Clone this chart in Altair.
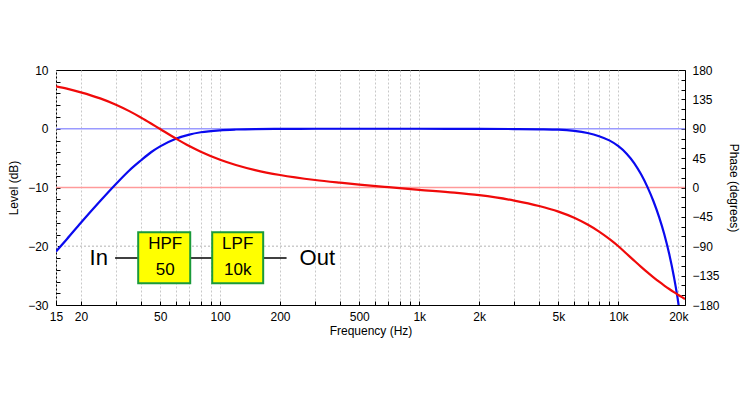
import altair as alt
import pandas as pd

# ---- data ----
freq = [15, 17, 20, 25, 30, 35, 40, 45, 50, 60, 70, 80, 100, 120, 150, 200, 300, 400, 500, 700,
        1000, 1500, 2000, 3000, 4000, 5000, 6000, 7000, 8000, 9000, 10000, 11000, 12000, 13000,
        14000, 15000, 16000, 17000, 18000, 19000, 20000, 20500, 21000, 21600]
level_db = [-20.9, -18.8, -16.0, -12.3, -9.4, -7.1, -5.4, -4.0, -3.0, -1.7, -1.0, -0.6, -0.26, -0.13,
            -0.05, -0.02, 0.0, 0.0, 0.0, 0.0,
            0.0, -0.01, -0.02, -0.05, -0.09, -0.15, -0.35, -0.72, -1.27, -1.98, -2.96, -4.24, -5.83, -7.76,
            -9.93, -12.34, -15.0, -17.96, -21.33, -25.2, -29.7, -32.5, -35.5, -40.0]
phase_deg = [154.9, 151.4, 145.8, 136.5, 126.8, 117.0, 107.3, 98.1, 89.6, 75.0, 63.5, 54.8, 42.5, 34.5,
             26.7, 19.1, 11.5, 7.4, 4.5, 0.5,
             -3.5, -7.8, -11.8, -20.0, -28.3, -37.0, -46.4, -56.8, -67.5, -78.7, -90.0, -101.5, -112.0, -121.5,
             -130.0, -137.6, -144.3, -150.2, -155.5, -160.3, -164.6, -166.6, -168.5, -170.7]

x_ticks = [15, 20, 30, 40, 50, 60, 70, 80, 90, 100, 200, 300, 400, 500, 600, 700, 800, 900,
           1000, 2000, 3000, 4000, 5000, 6000, 7000, 8000, 9000, 10000, 20000]
x_labeled = [15, 20, 50, 100, 200, 500, 1000, 2000, 5000, 10000, 20000]
level_ticks = list(range(-30, 11, 2))
phase_ticks = list(range(-180, 181, 15))

# reference lines (dB on left axis)
ref_level = [0, -10, -20]
ref_color = ["#9a9aff", "#ff9a9a", "#cccccc"]
ref_dash = ["solid", "solid", "dotted"]

# block diagram annotation (in data coordinates: Hz, dB)
box_x1 = [38.8, 91.3]
box_x2 = [70.8, 164.6]
box_top = [-17.6, -17.6]
box_bot = [-26.3, -26.3]
wire_x1 = [29.7, 70.8, 164.6]
wire_x2 = [38.8, 91.3, 215.7]
wire_y = [-22.0, -22.0, -22.0]
box_text = ["HPF", "50", "LPF", "10k"]
box_text_x = [53.0, 53.0, 122.6, 122.6]
box_text_y = [-19.7, -24.1, -19.7, -24.1]
io_text = ["In", "Out"]
io_x = [24.6, 307.7]
io_y = [-22.0, -22.0]

FONT = "Liberation Sans"
XDOM = [15, 21600]
YDOM = [-30, 10]

df = pd.DataFrame({"f": freq, "level": level_db, "phase": phase_deg})
refs = pd.DataFrame({"y": ref_level, "c": ref_color, "d": ref_dash})
boxes = pd.DataFrame({"x1": box_x1, "x2": box_x2, "y1": box_top, "y2": box_bot})
wires = pd.DataFrame({"x1": wire_x1, "x2": wire_x2, "y": wire_y})
btext = pd.DataFrame({"t": box_text, "x": box_text_x, "y": box_text_y})
iotext = pd.DataFrame({"t": io_text, "x": io_x, "y": io_y})

labeled_js = "[" + ",".join(str(v) for v in x_labeled) + "]"
x_axis = alt.Axis(
    title="Frequency (Hz)", values=x_ticks,
    labelExpr=f"indexof({labeled_js}, datum.value) >= 0 ? (datum.value >= 1000 ? (datum.value/1000) + 'k' : '' + datum.value) : ''",
    grid=True, gridDash=[2, 2], gridColor="#c8c8c8", gridWidth=1,
    tickSize={"expr": "-4"}, tickColor="#000", domain=False,
    labelFlush=False, labelPadding=10, labelFontSize=12, labelFont=FONT, labelColor="#000",
    titleFont=FONT, titleFontSize=12, titleFontWeight="normal", titleColor="#000", titlePadding=3,
)
y_axis = alt.Axis(
    title="Level (dB)", values=level_ticks,
    labelExpr="datum.value % 10 === 0 ? datum.label : ''",
    grid=False, tickSize={"expr": "-4"}, tickColor="#000", domain=False,
    labelPadding=12, labelFontSize=12, labelFont=FONT, labelColor="#000",
    titleFont=FONT, titleFontSize=12, titleFontWeight="normal", titleColor="#000", titlePadding=7,
)
x_scale = alt.Scale(type="log", domain=XDOM, nice=False)
y_scale = alt.Scale(domain=YDOM, nice=False, zero=False)


def X(field):
    return alt.X(f"{field}:Q", scale=x_scale, axis=x_axis)


def Y(field):
    return alt.Y(f"{field}:Q", scale=y_scale, axis=y_axis)


rules = alt.Chart(refs).mark_rule(strokeWidth=1.5).encode(
    x=alt.value(0), x2=alt.value(629),
    y=Y("y"),
    color=alt.Color("c:N", scale=None),
    strokeDash=alt.StrokeDash("d:N", scale=alt.Scale(domain=["solid", "dotted"], range=[[1, 0], [2, 2]]), legend=None),
)

level_line = alt.Chart(df).mark_line(color="#0a0aef", strokeWidth=2.2, clip=True, interpolate="monotone").encode(
    x=X("f"), y=Y("level"), order="f:Q",
)

wire_marks = alt.Chart(wires).mark_rule(color="#000", strokeWidth=1.5).encode(
    x=X("x1"), x2="x2", y=Y("y"))
box_marks = alt.Chart(boxes).mark_rect(fill="#ffff00", stroke="#1a9a3a", strokeWidth=2).encode(
    x=X("x1"), x2="x2", y=Y("y1"), y2="y2")
btext_marks = alt.Chart(btext).mark_text(font=FONT, fontSize=17, color="#000", baseline="middle", align="center").encode(
    x=X("x"), y=Y("y"), text="t:N")
io_marks = alt.Chart(iotext).mark_text(font=FONT, fontSize=22, color="#000", baseline="middle", align="center").encode(
    x=X("x"), y=Y("y"), text="t:N")

left = alt.layer(rules, level_line, wire_marks, box_marks, btext_marks, io_marks)

phase_line = alt.Chart(df).mark_line(color="#f00a0a", strokeWidth=2.2, clip=True, interpolate="monotone").encode(
    x=X("f"),
    y=alt.Y("phase:Q", scale=alt.Scale(domain=[-180, 180], nice=False, zero=False), axis=alt.Axis(
        orient="right", title="Phase (degrees)", values=phase_ticks,
        labelExpr="datum.value % 45 === 0 ? datum.label : ''",
        grid=False, tickSize={"expr": "-4"}, tickColor="#000", domain=False,
        labelPadding=11, labelFontSize=12, labelFont=FONT, labelColor="#000",
        titleFont=FONT, titleFontSize=12, titleFontWeight="normal", titleColor="#000", titlePadding=7,
    )),
    order="f:Q",
)

chart = alt.layer(left, phase_line).resolve_scale(y="independent").properties(
    width=629, height=235,
    autosize=alt.AutoSizeParams(type="none"),
    padding={"left": 56, "top": 70, "right": 65, "bottom": 95},
    background="#ffffff",
).configure_view(stroke="#000", strokeWidth=1)

chart.save("out.html", embed_options={"renderer": "svg", "actions": False})
